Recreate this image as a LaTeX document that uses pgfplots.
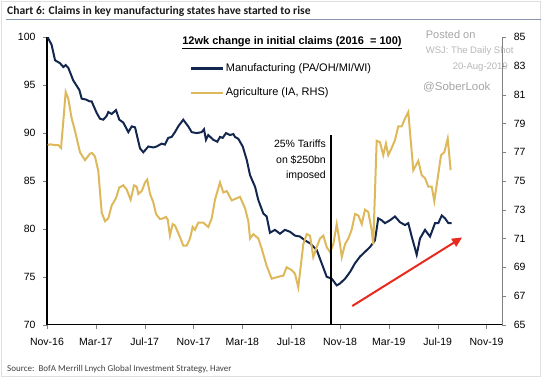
\documentclass[border=0pt]{standalone}
\usepackage{pgfplots}
\pgfplotsset{compat=1.18}
\usepackage{pgfplotstable}
\usepackage{fontspec}
\setmainfont{Liberation Sans}
\newfontfamily\carlito{Carlito}
\usetikzlibrary{arrows.meta}
\definecolor{navy}{RGB}{18,38,78}
\definecolor{gold}{RGB}{222,185,92}
\definecolor{redarrow}{RGB}{232,42,30}
\definecolor{titleline}{RGB}{132,150,176}
\definecolor{wm}{RGB}{165,165,165}

\pgfplotstableread{
m v
0.06 100.0
0.38 99.2
0.66 97.6
1.06 97.3
1.34 96.9
1.53 97.1
1.75 96.8
2.15 95.5
2.65 94.5
2.84 93.6
3.19 93.5
3.52 93.3
3.66 93.3
4.07 92.1
4.34 91.5
4.61 91.4
4.89 91.8
5.02 92.2
5.30 92.0
5.65 92.4
5.92 91.4
6.25 91.1
6.66 90.1
6.94 90.7
7.21 90.6
7.62 88.4
7.89 88.0
8.30 88.6
8.71 88.5
8.98 88.6
9.39 88.9
9.66 88.8
9.93 89.5
10.21 89.6
10.48 90.1
10.75 90.7
11.16 91.4
11.57 90.7
11.85 90.1
12.26 90.0
12.67 90.1
12.86 90.4
13.02 89.3
13.21 89.8
13.62 89.3
13.95 89.1
14.17 89.6
14.39 89.5
14.66 90.0
14.99 89.8
15.26 89.9
15.40 89.6
15.67 89.4
16.03 88.6
16.36 87.2
16.63 85.6
17.04 84.4
17.31 83.0
17.72 81.6
17.99 81.3
18.26 79.6
18.67 79.9
19.08 79.5
19.49 79.9
19.90 79.7
20.31 79.3
20.72 79.2
21.13 78.8
21.54 78.5
22.09 77.8
22.50 76.4
22.91 75.0
23.32 74.8
23.73 74.1
24.00 74.3
24.41 74.8
24.82 75.5
25.22 76.4
25.63 77.1
26.04 77.6
26.45 78.1
26.86 78.8
27.13 81.1
27.41 80.9
27.68 80.6
28.09 80.9
28.50 81.3
28.91 80.7
29.32 80.4
29.59 80.6
29.87 79.2
30.28 77.3
30.55 79.0
30.96 79.9
31.37 79.2
31.78 80.6
32.05 80.6
32.33 81.4
32.60 81.1
32.87 80.6
33.14 80.6
}\manuf

\pgfplotstableread{
m r
0.06 77.5
0.25 77.55
0.66 77.5
0.93 77.5
1.15 77.3
1.34 79.2
1.53 81.2
1.74 80.75
2.02 79.35
2.29 78.5
2.70 77.0
3.11 76.45
3.52 76.9
3.69 76.95
3.93 76.7
4.20 75.7
4.48 72.8
4.75 72.2
5.02 72.4
5.30 73.3
5.65 73.8
5.92 74.55
6.25 74.7
6.53 74.4
6.85 73.7
7.13 74.7
7.35 74.6
7.48 74.1
7.76 74.3
8.03 74.9
8.21 75.1
8.44 74.1
8.71 73.5
8.93 72.7
9.25 72.35
9.52 72.4
9.75 72.5
9.89 72.3
10.07 71.2
10.29 72.0
10.48 71.9
10.89 71.1
11.16 70.5
11.44 70.5
11.71 71.0
11.93 71.8
12.12 71.6
12.39 72.1
12.80 72.1
13.21 71.8
13.49 72.4
13.76 73.7
14.17 74.9
14.44 74.2
14.72 74.3
15.13 73.65
15.54 73.8
15.81 73.9
16.22 73.1
16.49 72.2
16.63 71.0
16.90 71.3
17.31 71.0
17.58 70.3
17.99 69.1
18.40 68.2
18.81 68.3
19.22 68.4
19.35 68.4
19.63 69.0
20.04 68.8
20.31 68.55
20.58 67.6
20.99 70.6
21.27 71.3
21.54 71.2
21.81 69.7
22.09 70.4
22.36 71.0
22.63 71.2
22.91 70.4
23.18 70.05
23.45 70.6
23.73 72.0
24.00 70.6
24.14 69.7
24.41 70.6
24.68 71.0
24.95 71.6
25.23 72.7
25.50 72.6
25.78 72.0
26.04 73.0
26.31 72.85
26.59 71.6
26.72 70.6
27.00 77.8
27.27 77.7
27.54 76.8
27.76 77.6
27.95 76.8
28.23 77.3
28.50 77.85
28.77 78.8
29.05 78.8
29.32 79.35
29.59 79.8
30.00 75.75
30.41 76.4
30.69 75.4
30.96 75.2
31.23 74.6
31.51 74.6
31.72 73.6
32.05 75.5
32.27 76.8
32.54 77.0
32.82 77.95
33.06 75.75
}\agri

\pgfplotsset{
  common/.style={
    at={(47pt,52.3pt)}, anchor=south west, scale only axis,
    width=455.3pt, height=287.4pt, xmin=0, xmax=37.29,
    /pgf/number format/assume math mode=true,
    tick label style={font=\fontsize{10.5}{12}\selectfont},
    tick align=outside, major tick length=4pt,
    clip=false,
  }
}

\begin{document}
\begin{tikzpicture}[x=1pt,y=1pt]
\useasboundingbox (0,0) rectangle (541,377);
\draw[gray!25, line width=0.8pt] (1,1) rectangle (540,376);
\node[anchor=west, font=\carlito\bfseries\fontsize{11.6}{14}\selectfont, inner sep=0pt, text=black!90] at (7,366) {Chart 6: Claims in key manufacturing states have started to rise};
\draw[titleline, line width=1.5pt] (6,357.5) -- (541,357.5);
\node[anchor=west, font=\carlito\fontsize{9}{11}\selectfont, inner sep=0pt, text=black!75] at (7,7.7) {Source:\ \ BofA Merrill Lnych Global Investment Strategy, Haver};

\begin{axis}[common,
  ymin=70, ymax=100, ytick={70,75,...,100},
  xtick={0,4,...,36},
  xticklabels={Nov-16,Mar-17,Jul-17,Nov-17,Mar-18,Jul-18,Nov-18,Mar-19,Jul-19,Nov-19},
  axis x line*=bottom, axis y line*=left,
  axis line style={line width=1.1pt, black},
  yticklabel style={xshift=-4pt},
  xticklabel style={yshift=-6pt},
]
\addplot[navy, line width=2pt] table[x=m, y=v] {\manuf};
\node[anchor=north east, align=right, inner sep=0pt, font=\fontsize{10.5}{15.5}\selectfont] at (axis cs:22.85,89.3) {25\% Tariffs\\on \$250bn\\imposed};
\node[font=\bfseries\fontsize{11}{13}\selectfont, inner sep=0pt] at (rel axis cs:0.538,0.982) {\underline{12wk change in initial claims (2016\ \ =\ 100)}};
\end{axis}

\begin{axis}[common,
  ymin=65, ymax=85, ytick={65,67,...,85},
  axis x line=none, axis y line*=right,
  y axis line style={line width=1pt, gray},
  yticklabel style={xshift=4pt},
  legend style={at={(0.314,0.914)}, anchor=north west, draw=none, fill=none,
    font=\fontsize{11}{13}\selectfont, row sep=11.7pt, inner sep=0pt,
    nodes={inner sep=1.5pt}},
  legend cell align=left,
  legend image code/.code={\draw[#1, line width=2.2pt] (0pt,0pt) -- (32pt,0pt);},
]
\addlegendimage{navy, line width=2.2pt}
\addlegendentry{Manufacturing (PA/OH/MI/WI)}
\addplot[gold, line width=2pt] table[x=m, y=r] {\agri};
\addlegendentry{Agriculture (IA, RHS)}
\draw[black, line width=1.2pt] (axis cs:23.26,65) -- (axis cs:23.26,78.2);
\draw[redarrow, line width=2pt, -{Triangle[length=10pt,width=9pt]}] (axis cs:25.0,66.3) -- (axis cs:34.0,71.07);
\end{axis}

\node[anchor=west, text=wm, font=\fontsize{11}{13}\selectfont, inner sep=0pt] at (425.7,342) {Posted on};
\node[anchor=west, text=wm!80, font=\fontsize{9.5}{11}\selectfont, inner sep=0pt] at (425.7,326) {WSJ: The Daily Shot};
\node[anchor=east, text=wm!80, font=\fontsize{9.5}{11}\selectfont, inner sep=0pt] at (508,310.3) {20-Aug-2019};
\node[anchor=west, text=wm, font=\fontsize{11.5}{13}\selectfont, inner sep=0pt] at (423,290.3) {@SoberLook};
\end{tikzpicture}
\end{document}
